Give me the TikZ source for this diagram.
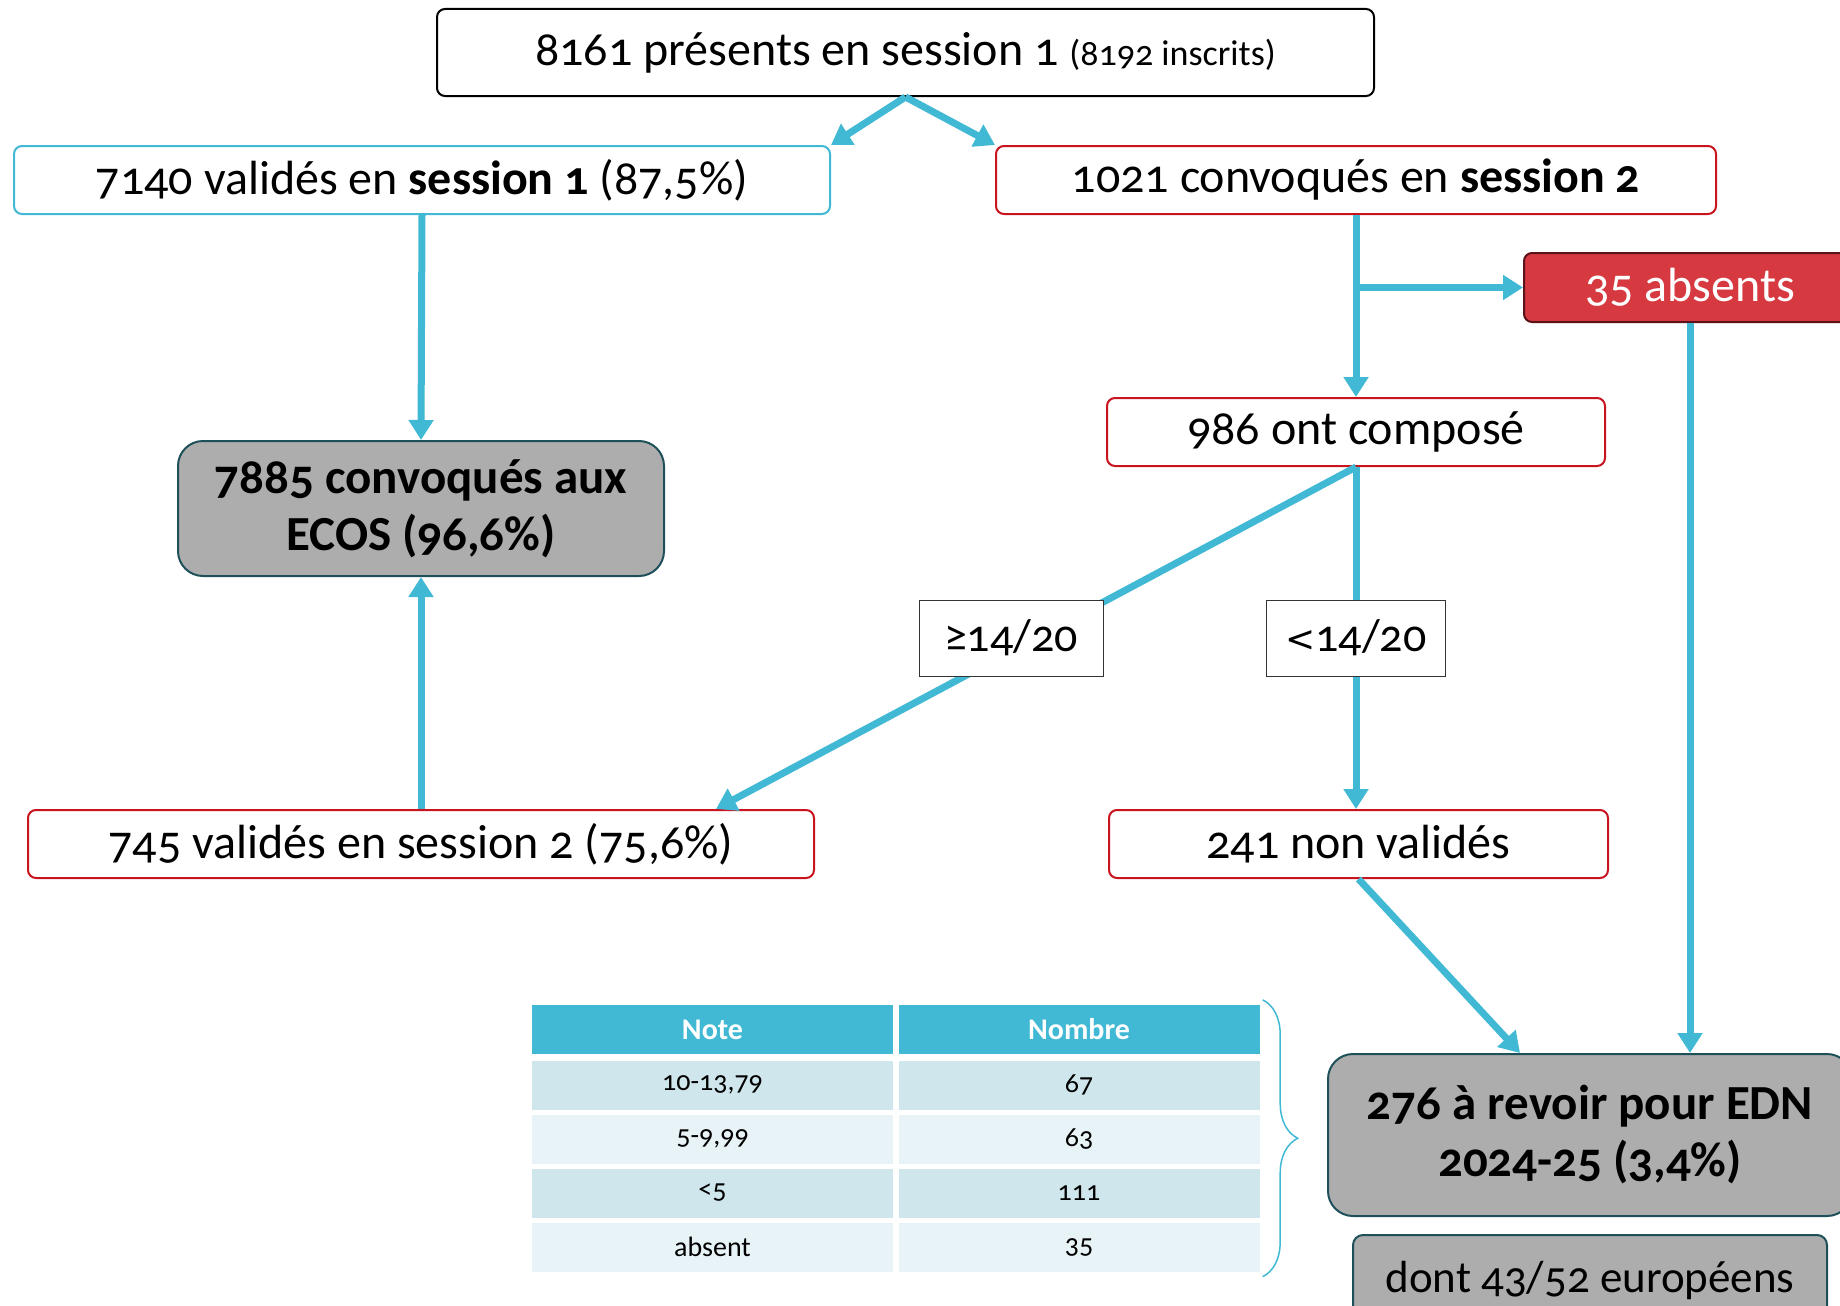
\documentclass[tikz,border=0pt]{standalone}
\usepackage{fontspec}
\setmainfont{Carlito}[Numbers=OldStyle]
\newfontfamily\symf{DejaVu Sans}
\usetikzlibrary{arrows.meta,decorations.pathreplacing}
\definecolor{flow}{RGB}{65,185,212}
\definecolor{boxred}{RGB}{200,20,30}
\definecolor{absfill}{RGB}{214,58,64}
\definecolor{absline}{RGB}{90,20,25}
\definecolor{grayfill}{RGB}{173,173,173}
\definecolor{grayline}{RGB}{30,80,90}
\definecolor{rowA}{RGB}{207,230,237}
\definecolor{rowB}{RGB}{232,243,247}

\begin{document}
\begin{tikzpicture}[x=1pt, y=-1pt,
	box/.style={draw, rounded corners=8pt, line width=2pt, fill=white, inner sep=0pt,
		font=\fontsize{48}{56}\selectfont},
	redbox/.style={box, draw=boxred, minimum height=68pt},
	graybox/.style={box, draw=grayline, fill=grayfill, rounded corners=25pt, align=center,
		font=\fontsize{49}{57}\selectfont\bfseries},
	lbl/.style={draw=black!80, line width=1pt, fill=white, minimum width=184pt, minimum height=76pt,
		font=\fontsize{46}{52}\selectfont},
	arr/.style={draw=flow, line width=7pt, -{Triangle[length=20pt,width=24pt]}},
	cell/.style={minimum width=361pt, minimum height=49pt, inner sep=0pt,
		font=\fontsize{28}{32}\selectfont},
	head/.style={cell, fill=flow, text=white, font=\fontsize{30}{34}\selectfont\bfseries},
]
	\useasboundingbox (0,0) rectangle (1840,1306);

	\node[box, minimum width=937pt, minimum height=87pt] (top) at (905.5,52.5)
		{8161 présents en session 1 {\fontsize{36}{40}\selectfont (8192 inscrits)}};
	\node[box, draw=flow, minimum width=816pt, minimum height=68pt] (v1) at (422,180)
		{7140 validés en \textbf{session 1} (87,5\%)};
	\node[redbox, minimum width=720pt] (c2) at (1356,180) {1021 convoqués en \textbf{session 2}};
	\node[box, draw=absline, fill=absfill, text=white, minimum width=332pt, minimum height=69pt] (abs)
		at (1690,287.5) {35 absents};
	\node[redbox, minimum width=498pt] (comp) at (1356,432) {986 ont composé};
	\node[graybox, minimum width=486pt, minimum height=135pt] (ecos) at (421,508.5)
		{7885 convoqués aux\\ECOS (96,6\%)};
	\node[redbox, minimum width=786pt] (v2) at (421,844) {745 validés en session 2 (75,6\%)};
	\node[redbox, minimum width=499pt] (nv) at (1358.5,844) {241 non validés};
	\node[graybox, minimum width=524pt, minimum height=162pt] (edn) at (1590,1135)
		{276 à revoir pour EDN\\2024-25 (3,4\%)};
	\node[graybox, font=\fontsize{45}{50}\selectfont, rounded corners=10pt, minimum width=474pt,
		minimum height=90pt] (eu) at (1590,1280) {dont 43/52 européens};

	\draw[arr] (top.south) -- (v1.north east);
	\draw[arr] (top.south) -- (c2.north west);
	\draw[arr] (v1.south) -- (ecos.north);
	\draw[arr] (v2.north) -- (ecos.south);
	\draw[arr] (c2.south) -- (comp.north);
	\draw[arr] (c2.south |- abs.west) -- (abs.west);
	\draw[arr] (abs.south) -- (abs.south |- edn.north);
	\draw[arr] (comp.south) -- ([xshift=295pt]v2.north)
		node[lbl, pos=.5, xshift=-25pt] (ge) {≥14/20};
	\draw[arr] (comp.south) -- (comp.south |- nv.north)
		node[lbl, pos=.5, minimum width=179pt] (lt) {{\symf\fontsize{36}{40}\selectfont<}14/20};
	\draw[arr] (nv.south) -- ([xshift=-70pt]edn.north);

	% table
	\node[head] (hn) at (712.5,1029.5) {Note};
	\node[head] (hm) at (1079,1029.5) {Nombre};
	\foreach \note/\nb/\shade [count=\i] in {{10-13,79}/67/rowA, {5-9,99}/63/rowB, <5/111/rowA, absent/35/rowB} {
		\node[cell, fill=\shade] (n\i) at (712.5,{1085+54*(\i-1)}) {\note};
		\node[cell, fill=\shade] (m\i) at (1079,{1085+54*(\i-1)}) {\nb};
	}
	\draw[flow, line width=1.5pt, decorate, decoration={brace, amplitude=35pt}]
		([xshift=3pt,yshift=5pt]hm.north east) -- ([xshift=3pt,yshift=-5pt]m4.south east);
\end{tikzpicture}
\end{document}
